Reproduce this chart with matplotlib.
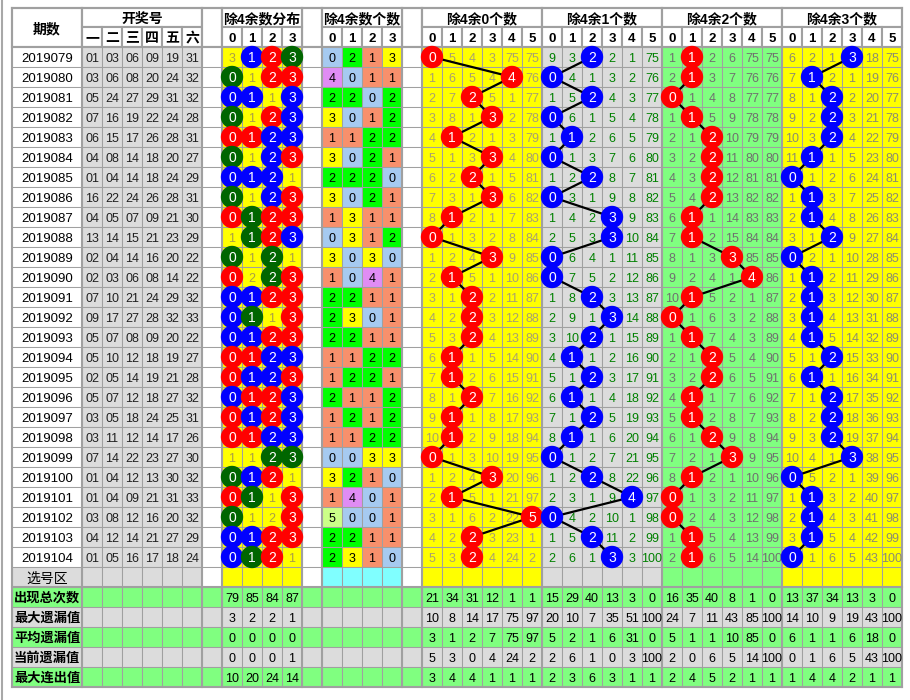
import matplotlib.pyplot as plt
from matplotlib.patches import Rectangle, Circle

plt.rcParams['font.family'] = ['Liberation Sans', 'Noto Sans CJK SC', 'DejaVu Sans']

# 数据
periods = ['2019079', '2019080', '2019081', '2019082', '2019083', '2019084', '2019085',
           '2019086', '2019087', '2019088', '2019089', '2019090', '2019091', '2019092',
           '2019093', '2019094', '2019095', '2019096', '2019097', '2019098', '2019099',
           '2019100', '2019101', '2019102', '2019103', '2019104']

draws = ['01 03 06 09 19 31', '03 06 08 20 24 32', '05 24 27 29 31 32', '07 16 19 22 24 28',
         '06 15 17 26 28 31', '04 08 14 18 20 27', '01 04 14 18 24 29', '16 22 24 26 28 31',
         '04 05 07 09 21 30', '13 14 15 21 23 29', '02 04 14 16 20 22', '02 03 06 08 14 22',
         '07 10 21 24 29 32', '09 17 27 28 32 33', '05 07 08 09 20 22', '05 10 12 18 19 27',
         '02 05 14 19 21 28', '05 07 12 18 27 32', '03 05 18 24 25 31', '03 11 12 14 17 26',
         '07 14 22 23 27 30', '01 04 12 13 30 32', '01 04 09 21 31 33', '03 08 12 16 20 32',
         '04 12 14 21 27 29', '01 05 16 17 18 24']

# 除4余数分布 (显示值)
dist_vals = [[3, 1, 2, 3], [0, 1, 2, 3], [0, 1, 1, 3], [0, 1, 2, 3], [0, 1, 2, 3], [0, 1, 2, 3],
             [0, 1, 2, 1], [0, 1, 2, 3], [0, 1, 2, 3], [1, 1, 2, 3], [0, 1, 2, 1], [0, 2, 2, 3],
             [0, 1, 2, 3], [0, 1, 1, 3], [0, 1, 2, 3], [0, 1, 2, 3], [0, 1, 2, 3], [0, 1, 2, 3],
             [0, 1, 2, 3], [0, 1, 2, 3], [1, 1, 2, 3], [0, 1, 2, 1], [0, 1, 1, 3], [0, 1, 2, 3],
             [0, 1, 2, 3], [0, 1, 2, 1]]

# 除4余数个数
counts = [[0, 2, 1, 3], [4, 0, 1, 1], [2, 2, 0, 2], [3, 0, 1, 2], [1, 1, 2, 2], [3, 0, 2, 1],
          [2, 2, 2, 0], [3, 0, 2, 1], [1, 3, 1, 1], [0, 3, 1, 2], [3, 0, 3, 0], [1, 0, 4, 1],
          [2, 2, 1, 1], [2, 3, 0, 1], [2, 2, 1, 1], [1, 1, 2, 2], [1, 2, 2, 1], [2, 1, 1, 2],
          [1, 2, 1, 2], [1, 1, 2, 2], [0, 0, 3, 3], [3, 2, 1, 0], [1, 4, 0, 1], [5, 0, 0, 1],
          [2, 2, 1, 1], [2, 3, 1, 0]]

rem0 = [[0, 5, 4, 3, 75, 75], [1, 6, 5, 4, 4, 76], [2, 7, 2, 5, 1, 77], [3, 8, 1, 3, 2, 78],
        [4, 1, 2, 1, 3, 79], [5, 1, 3, 3, 4, 80], [6, 2, 2, 1, 5, 81], [7, 3, 1, 3, 6, 82],
        [8, 1, 2, 1, 7, 83], [0, 1, 3, 2, 8, 84], [1, 2, 4, 3, 9, 85], [2, 1, 5, 1, 10, 86],
        [3, 1, 2, 2, 11, 87], [4, 2, 2, 3, 12, 88], [5, 3, 2, 4, 13, 89], [6, 1, 1, 5, 14, 90],
        [7, 1, 2, 6, 15, 91], [8, 1, 2, 7, 16, 92], [9, 1, 1, 8, 17, 93], [10, 1, 2, 9, 18, 94],
        [0, 1, 3, 10, 19, 95], [1, 2, 4, 3, 20, 96], [2, 1, 5, 1, 21, 97], [3, 1, 6, 2, 22, 5],
        [4, 2, 2, 3, 23, 1], [5, 3, 2, 4, 24, 2]]

rem1 = [[9, 3, 2, 2, 1, 75], [0, 4, 1, 3, 2, 76], [1, 5, 2, 4, 3, 77], [0, 6, 1, 5, 4, 78],
        [1, 1, 2, 6, 5, 79], [0, 1, 3, 7, 6, 80], [1, 2, 2, 8, 7, 81], [0, 3, 1, 9, 8, 82],
        [1, 4, 2, 3, 9, 83], [2, 5, 3, 3, 10, 84], [0, 6, 4, 1, 11, 85], [0, 7, 5, 2, 12, 86],
        [1, 8, 2, 3, 13, 87], [2, 9, 1, 3, 14, 88], [3, 10, 2, 1, 15, 89], [4, 1, 1, 2, 16, 90],
        [5, 1, 2, 3, 17, 91], [6, 1, 1, 4, 18, 92], [7, 1, 2, 5, 19, 93], [8, 1, 1, 6, 20, 94],
        [0, 1, 2, 7, 21, 95], [1, 2, 2, 8, 22, 96], [2, 3, 1, 9, 4, 97], [0, 4, 2, 10, 1, 98],
        [1, 5, 2, 11, 2, 99], [2, 6, 1, 3, 3, 100]]

rem2 = [[1, 1, 2, 6, 75, 75], [2, 1, 3, 7, 76, 76], [0, 1, 4, 8, 77, 77], [1, 1, 5, 9, 78, 78],
        [2, 1, 2, 10, 79, 79], [3, 2, 2, 11, 80, 80], [4, 3, 2, 12, 81, 81], [5, 4, 2, 13, 82, 82],
        [6, 1, 1, 14, 83, 83], [7, 1, 2, 15, 84, 84], [8, 1, 3, 3, 85, 85], [9, 2, 4, 1, 4, 86],
        [10, 1, 5, 2, 1, 87], [0, 1, 6, 3, 2, 88], [1, 1, 7, 4, 3, 89], [2, 1, 2, 5, 4, 90],
        [3, 2, 2, 6, 5, 91], [4, 1, 1, 7, 6, 92], [5, 1, 2, 8, 7, 93], [6, 1, 2, 9, 8, 94],
        [7, 2, 1, 3, 9, 95], [8, 1, 2, 1, 10, 96], [0, 1, 3, 2, 11, 97], [0, 2, 4, 3, 12, 98],
        [1, 1, 5, 4, 13, 99], [2, 1, 6, 5, 14, 100]]

rem3 = [[6, 2, 1, 3, 18, 75], [7, 1, 2, 1, 19, 76], [8, 1, 2, 2, 20, 77], [9, 2, 2, 3, 21, 78],
        [10, 3, 2, 4, 22, 79], [11, 1, 1, 5, 23, 80], [0, 1, 2, 6, 24, 81], [1, 1, 3, 7, 25, 82],
        [2, 1, 4, 8, 26, 83], [3, 1, 2, 9, 27, 84], [0, 2, 1, 10, 28, 85], [1, 1, 2, 11, 29, 86],
        [2, 1, 3, 12, 30, 87], [3, 1, 4, 13, 31, 88], [4, 1, 5, 14, 32, 89], [5, 1, 2, 15, 33, 90],
        [6, 1, 1, 16, 34, 91], [7, 1, 2, 17, 35, 92], [8, 2, 2, 18, 36, 93], [9, 3, 2, 19, 37, 94],
        [10, 4, 1, 3, 38, 95], [0, 5, 2, 1, 39, 96], [1, 1, 3, 2, 40, 97], [2, 1, 4, 3, 41, 98],
        [3, 1, 5, 4, 42, 99], [0, 1, 6, 5, 43, 100]]

stat_labels = ['出现总次数', '最大遗漏值', '平均遗漏值', '当前遗漏值', '最大连出值']
stat_dist = [[79, 85, 84, 87], [3, 2, 2, 1], [0, 0, 0, 0], [0, 0, 0, 1], [10, 20, 24, 14]]
stat_rem0 = [[21, 34, 31, 12, 1, 1], [10, 8, 14, 17, 75, 97], [3, 1, 2, 7, 75, 97],
             [5, 3, 0, 4, 24, 2], [3, 4, 4, 1, 1, 1]]
stat_rem1 = [[15, 29, 40, 13, 3, 0], [20, 10, 7, 35, 51, 100], [5, 2, 1, 6, 31, 0],
             [2, 6, 1, 0, 3, 100], [2, 3, 6, 3, 1, 1]]
stat_rem2 = [[16, 35, 40, 8, 1, 0], [24, 7, 11, 43, 85, 100], [5, 1, 1, 10, 85, 0],
             [2, 0, 6, 5, 14, 100], [2, 4, 5, 2, 1, 1]]
stat_rem3 = [[13, 37, 34, 13, 3, 0], [14, 10, 9, 19, 43, 100], [6, 1, 1, 6, 18, 0],
             [0, 1, 6, 5, 43, 100], [1, 4, 4, 2, 1, 1]]

# 颜色
GREY = '#DCDCDC'
YEL = '#FFFF00'
GRN = '#80FF80'
CYAN = '#80FFFF'
LINE = '#A0A0A0'
cnt_colors = {0: '#A6CAF0', 1: '#F8906C', 2: '#00FF00', 3: '#FFFF00', 4: '#E08CF4', 5: '#CCFF88'}

# 网格 (像素)
W, H = 910, 700
x_edges = [12, 82] + [82 + 20 * i for i in range(1, 42)]
n_data = len(periods)
y_edges = [8, 27, 47] + [47 + 20 * i for i in range(1, n_data + 7)]

fig = plt.figure(figsize=(W / 100, H / 100), dpi=100)
ax = fig.add_axes([0, 0, 1, 1])
ax.set_xlim(0, W)
ax.set_ylim(H, 0)
ax.axis('off')


def cx(c):
    return (x_edges[c] + x_edges[c + 1]) / 2


def cy(r):
    return (y_edges[r] + y_edges[r + 1]) / 2


def cell(c, r, color, span_c=1, span_r=1, lw=0.75):
    x0, x1 = x_edges[c], x_edges[c + span_c]
    y0, y1 = y_edges[r], y_edges[r + span_r]
    ax.add_patch(Rectangle((x0, y0), x1 - x0, y1 - y0, facecolor=color,
                           edgecolor=LINE, lw=lw, zorder=1))


def txt(x, y, s, size=9, color='black', weight='normal', ha='center'):
    ax.text(x, y, s, fontsize=size, color=color, weight=weight, ha=ha,
            va='center_baseline', zorder=3)


# 列分组
DRAW0, GAP1, DIST0, GAP2, CNT0, GAP3 = 1, 7, 8, 12, 13, 17
REM0 = [18, 24, 30, 36]
rem_blocks = [rem0, rem1, rem2, rem3]
rem_bg = [YEL, GREY, GRN, YEL]
rem_txt = ['#A8A070', '#008000', '#707070', '#8C8C70']
rem_circ = ['#FF0000', '#0000FF', '#FF0000', '#0000FF']
stat_blocks = [stat_rem0, stat_rem1, stat_rem2, stat_rem3]

# 表头
cell(0, 0, 'white', span_r=2, lw=1.5)
txt(cx(0), (y_edges[0] + y_edges[2]) / 2, '期数', size=10, weight='bold')
cell(DRAW0, 0, 'white', span_c=6, lw=1.5)
txt((x_edges[DRAW0] + x_edges[DRAW0 + 6]) / 2, cy(0), '开奖号', size=10, weight='bold')
for i, s in enumerate(['一', '二', '三', '四', '五', '六']):
    cell(DRAW0 + i, 1, 'white', lw=1.5)
    txt(cx(DRAW0 + i), cy(1), s, size=10, weight='bold')
for g in [GAP1, GAP2, GAP3]:
    cell(g, 0, 'white', span_r=2, lw=1.5)
groups = [(DIST0, 4, '除4余数分布'), (CNT0, 4, '除4余数个数')] + \
         [(REM0[k], 6, '除4余%d个数' % k) for k in range(4)]
for c0, n, title in groups:
    cell(c0, 0, 'white', span_c=n, lw=1.5)
    txt((x_edges[c0] + x_edges[c0 + n]) / 2, cy(0), title, size=10, weight='bold')
    for i in range(n):
        cell(c0 + i, 1, 'white', lw=1.5)
        txt(cx(c0 + i), cy(1), str(i), size=9.5, weight='bold')

# 数据行
for r in range(n_data):
    row = r + 2
    cell(0, row, 'white')
    txt(cx(0), cy(row), periods[r], size=9.5)
    for i, num in enumerate(draws[r].split()):
        cell(DRAW0 + i, row, GREY)
        txt(cx(DRAW0 + i), cy(row), num, color='#202020')
    for g in [GAP1, GAP2, GAP3]:
        cell(g, row, 'white')
    for k in range(4):
        c = DIST0 + k
        cell(c, row, YEL)
        n = counts[r][k]
        if n > 0:
            col = '#FF0000' if n == 1 else ('#0000FF' if n == 2 else '#006600')
            ax.add_patch(Circle((cx(c), cy(row)), 10.5, color=col, zorder=5))
            ax.text(cx(c), cy(row), str(dist_vals[r][k]), fontsize=10, color='white',
                    ha='center', va='center_baseline', zorder=6)
        else:
            txt(cx(c), cy(row), str(dist_vals[r][k]), color='#A89E48')
        c = CNT0 + k
        cell(c, row, cnt_colors[n])
        txt(cx(c), cy(row), str(n))
    for b in range(4):
        for i in range(6):
            c = REM0[b] + i
            cell(c, row, rem_bg[b])
            v = rem_blocks[b][r][i]
            if i == counts[r][b]:
                ax.add_patch(Circle((cx(c), cy(row)), 10.5, color=rem_circ[b], zorder=5))
                ax.text(cx(c), cy(row), str(v), fontsize=10, color='white',
                        ha='center', va='center_baseline', zorder=6)
            else:
                txt(cx(c), cy(row), str(v), color=rem_txt[b])

# 走势连线
for b in range(4):
    xs = [cx(REM0[b] + counts[r][b]) for r in range(n_data)]
    ys = [cy(r + 2) for r in range(n_data)]
    ax.plot(xs, ys, color='black', lw=1.6, zorder=4, solid_capstyle='round')

# 选号区
row = n_data + 2
cell(0, row, GREY)
txt(cx(0), cy(row), '选号区', size=10)
for i in range(6):
    cell(DRAW0 + i, row, GREY)
for g in [GAP1, GAP2, GAP3]:
    cell(g, row, 'white')
for k in range(4):
    cell(DIST0 + k, row, YEL)
    cell(CNT0 + k, row, CYAN)
for b in range(4):
    for i in range(6):
        cell(REM0[b] + i, row, rem_bg[b])

# 统计行
for s in range(5):
    row = n_data + 3 + s
    bg = GRN if s % 2 == 0 else GREY
    for c in range(len(x_edges) - 1):
        cell(c, row, bg)
    txt(x_edges[0] + 2, cy(row), stat_labels[s], size=9.5, weight='bold', ha='left')
    for k in range(4):
        txt(cx(DIST0 + k), cy(row), str(stat_dist[s][k]))
    for b in range(4):
        for i in range(6):
            txt(cx(REM0[b] + i), cy(row), str(stat_blocks[b][s][i]))

# 粗分隔线
y_top, y_bot = y_edges[0], y_edges[-1]
for c in [0, 1, GAP1, DIST0, GAP2, CNT0, GAP3] + REM0 + [len(x_edges) - 1]:
    ax.plot([x_edges[c], x_edges[c]], [y_top, y_bot], color=LINE, lw=1.5, zorder=2)
for yy in [y_edges[0], y_edges[2], y_edges[n_data + 3], y_edges[-1]]:
    ax.plot([x_edges[0], x_edges[-1]], [yy, yy], color=LINE, lw=1.5, zorder=2)
ax.plot([1.5, 1.5], [0, H], color='#A8A8A8', lw=1.5, zorder=2)

fig.savefig('out.png', dpi=100)
